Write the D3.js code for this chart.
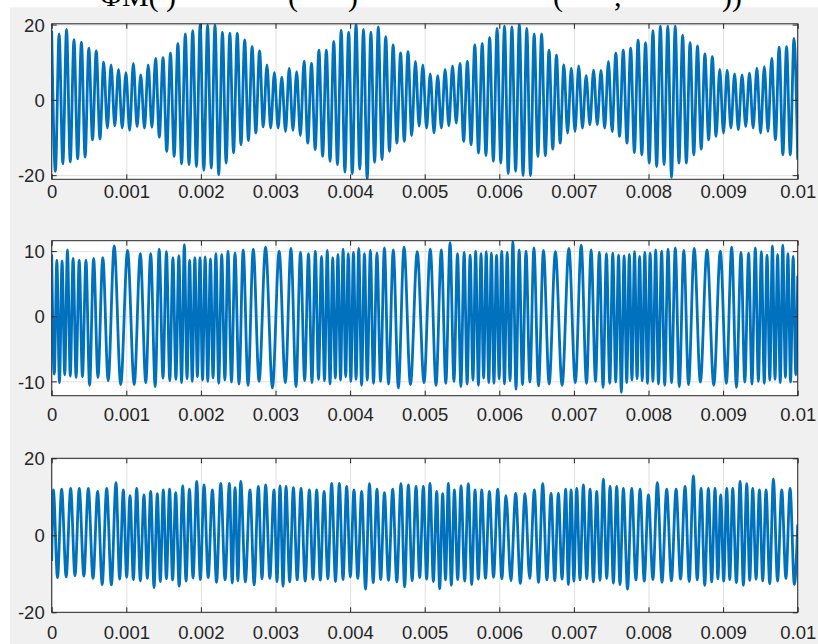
<!DOCTYPE html>
<html>
<head>
<meta charset="utf-8">
<script src="https://cdnjs.cloudflare.com/ajax/libs/d3/7.8.5/d3.min.js"></script>
<style>
  html, body { margin: 0; padding: 0; background: #ffffff; }
  svg { display: block; }
</style>
</head>
<body>
<svg id="figure" width="818" height="644"></svg>
<script>
// time axis, in ms (labels shown in seconds)
let xTickValues = [0, 1, 2, 3, 4, 5, 6, 7, 8, 9, 10];
let xTickLabels = ["0", "0.001", "0.002", "0.003", "0.004", "0.005", "0.006", "0.007", "0.008", "0.009", "0.01"];

// clipped title fragments above the first axes
let titleParts = ["ΦM( )", "(", ")", "(", ",", "))"];

// top panel: carrier maxima / minima, read one per cycle (equally spaced)
let amTicks = [-20, 0, 20];
let amPeaks = [
  18.4, 17.5, 18.7, 16.0, 15.3, 13.7, 13.0, 10.0, 9.3, 8.1,
  7.2, 9.7, 6.6, 9.3, 11.0, 11.2, 12.4, 15.0, 17.5, 18.4,
  20.1, 19.9, 19.9, 18.0, 17.7, 17.7, 15.9, 14.1, 13.0, 9.3,
  7.2, 6.0, 8.4, 7.5, 10.3, 9.7, 13.2, 13.2, 15.5, 18.5,
  18.0, 20.1, 18.7, 18.0, 19.4, 16.8, 14.6, 12.5, 12.8, 10.2,
  9.3, 6.9, 6.4, 8.1, 9.0, 9.7, 10.2, 14.6, 15.0, 16.6,
  19.0, 19.6, 19.4, 20.1, 19.0, 17.5, 17.5, 13.2, 11.9, 9.3,
  8.4, 9.0, 6.4, 7.9, 7.8, 10.2, 12.4, 13.2, 13.7, 15.9,
  15.2, 18.4, 19.6, 19.6, 19.6, 17.2, 15.2, 14.3, 12.2, 11.5,
  8.1, 7.9, 6.9, 6.6, 7.1, 8.4, 8.8, 11.0, 14.0, 14.1,
  16.3
];
let amTroughs = [
  -19.0, -17.0, -16.5, -15.7, -15.2, -10.6, -10.4, -7.5, -6.9, -7.5,
  -8.1, -7.1, -7.5, -7.3, -9.9, -13.7, -15.0, -17.0, -17.2, -17.7,
  -18.7, -18.1, -19.9, -16.8, -14.1, -11.9, -10.8, -8.8, -7.2, -7.5,
  -7.5, -8.4, -8.1, -9.5, -11.5, -13.2, -15.0, -16.3, -17.2, -19.2,
  -19.6, -18.4, -21.0, -16.6, -15.9, -13.7, -11.5, -11.0, -9.5, -7.0,
  -7.5, -8.8, -7.5, -6.9, -6.2, -11.0, -11.9, -14.1, -14.8, -16.3,
  -16.8, -19.6, -19.0, -20.1, -20.1, -15.0, -14.8, -13.1, -11.5, -8.8,
  -8.4, -7.5, -6.6, -6.6, -7.5, -8.4, -9.7, -11.5, -14.0, -14.6,
  -16.8, -17.7, -17.2, -20.6, -16.8, -16.8, -14.6, -13.1, -10.6, -9.7,
  -8.8, -7.5, -7.9, -7.1, -7.5, -8.8, -8.4, -10.6, -14.6, -14.6,
  -15.9
];

// middle panel: extrema times (ms) and values
let fmTicks = [-10, 0, 10];
let fmTimes = [
  0, 0.035, 0.069, 0.104, 0.139, 0.175, 0.211, 0.249, 0.287, 0.327,
  0.369, 0.412, 0.459, 0.508, 0.562, 0.620, 0.685, 0.757, 0.838, 0.925,
  1.017, 1.106, 1.188, 1.261, 1.327, 1.387, 1.441, 1.492, 1.538, 1.583,
  1.625, 1.665, 1.705, 1.741, 1.778, 1.814, 1.849, 1.884, 1.919, 1.953,
  1.988, 2.022, 2.057, 2.092, 2.128, 2.163, 2.201, 2.239, 2.279, 2.321,
  2.363, 2.410, 2.457, 2.511, 2.567, 2.632, 2.702, 2.780, 2.867, 2.959,
  3.049, 3.132, 3.207, 3.275, 3.335, 3.391, 3.442, 3.489, 3.534, 3.577,
  3.617, 3.657, 3.694, 3.731, 3.767, 3.802, 3.837, 3.872, 3.906,
  3.941, 3.975, 4.010, 4.045, 4.080, 4.116, 4.154, 4.192, 4.230, 4.272,
  4.314, 4.360, 4.408, 4.460, 4.515, 4.579, 4.647, 4.723, 4.809, 4.900,
  4.991, 5.075, 5.152, 5.223, 5.283, 5.340, 5.392, 5.440, 5.485, 5.529,
  5.569, 5.609, 5.647, 5.683, 5.720, 5.755, 5.790, 5.825, 5.859,
  5.894, 5.928, 5.963, 5.998, 6.033, 6.069, 6.106, 6.144, 6.182, 6.224,
  6.266, 6.311, 6.358, 6.410, 6.464, 6.526, 6.592, 6.668, 6.752, 6.842,
  6.933, 7.019, 7.098, 7.169, 7.231, 7.290, 7.341, 7.391, 7.436, 7.481,
  7.521, 7.561, 7.599, 7.636, 7.673, 7.708, 7.743, 7.778, 7.813,
  7.847, 7.881, 7.916, 7.951, 7.986, 8.022, 8.059, 8.096, 8.134, 8.176,
  8.217, 8.262, 8.309, 8.359, 8.413, 8.473, 8.537, 8.613, 8.695, 8.784,
  8.875, 8.963, 9.044, 9.115, 9.179, 9.240, 9.291, 9.342, 9.387, 9.432,
  9.473, 9.513, 9.552, 9.589, 9.626, 9.661, 9.696, 9.731, 9.766,
  9.800, 9.835, 9.869, 9.904, 9.939, 9.975, 10.0
];
let fmValues = [
  9.5, -8.9, 8.6, -10.2, 8.5, -9.0, 10.2, -9.2, 8.9, -9.4,
  8.6, -9.3, 8.6, -10.6, 8.9, -9.4, 9.0, -9.9, 10.8, -10.5,
  10.1, -10.5, 9.6, -10.2, 9.6, -10.8, 10.3, -9.5, 9.9, -9.9,
  9.0, -9.7, 9.3, -10.2, 11.0, -9.6, 8.6, -10.0, 9.0, -9.3,
  9.0, -9.8, 9.1, -10.0, 8.8, -9.5, 9.6, -10.3, 9.5, -9.8,
  10.0, -10.1, 9.7, -10.4, 10.2, -10.6, 10.3, -10.0, 10.6, -11.0,
  10.0, -10.2, 10.4, -10.8, 9.8, -9.9, 9.6, -10.2, 10.0, -9.7,
  9.2, -9.9, 10.1, -10.4, 9.0, -9.5, 9.5, -9.8, 10.3,
  -9.3, 9.6, -10.0, 9.8, -9.7, 10.4, -10.6, 9.6, -9.8, 10.1,
  -10.3, 9.7, -10.0, 10.5, -10.4, 10.2, -11.0, 10.6, -10.5, 9.9,
  -10.2, 10.3, -10.6, 10.2, -10.3, 11.3, -10.0, 9.6, -10.8, 9.8,
  -10.4, 9.4, -9.8, 10.0, -10.6, 9.6, -9.5, 9.9, -10.2,
  9.7, -10.3, 9.4, -9.6, 10.0, -10.4, 9.8, -9.9, 11.5, -11.2,
  10.2, -10.5, 10.0, -10.1, 10.5, -10.7, 10.1, -10.4, 9.9, -10.6,
  10.4, -10.2, 10.9, -10.3, 10.2, -10.0, 9.8, -10.9, 9.6, -10.3,
  9.7, -10.1, 9.4, -11.7, 9.3, -10.2, 9.5, -9.8, 9.9,
  -9.6, 9.2, -9.9, 9.8, -10.3, 9.7, -10.0, 10.2, -10.4, 10.0,
  -10.6, 10.3, -10.2, 10.5, -10.8, 10.1, -10.5, 10.4, -10.1, 10.2,
  -10.6, 10.0, -10.3, 10.6, -10.9, 9.8, -10.1, 9.7, -10.4, 10.5,
  -10.0, 9.9, -10.3, 9.4, -9.8, 10.8, -9.7, 9.5, -10.2,
  10.9, -9.4, 9.6, -10.1, 9.2, -9.0, 6.2
];

// bottom panel: maxima and minima read separately, plus the two end samples
let pmTicks = [-20, 0, 20];
let pmPeakTimes = [
  0.022, 0.133, 0.254, 0.370, 0.491, 0.616, 0.737, 0.862, 0.960, 1.050,
  1.139, 1.237, 1.327, 1.416, 1.496, 1.580, 1.662, 1.756, 1.846, 1.944,
  2.042, 2.154, 2.266, 2.382, 2.458, 2.534, 2.658, 2.770, 2.868, 2.980,
  3.061, 3.141, 3.240, 3.342, 3.454, 3.552, 3.651, 3.753, 3.856, 3.954,
  4.052, 4.155, 4.260, 4.360, 4.460, 4.571, 4.682, 4.781, 4.884, 4.982,
  5.071, 5.161, 5.241, 5.317, 5.398, 5.487, 5.585, 5.675, 5.764, 5.867,
  5.979, 6.090, 6.220, 6.345, 6.470, 6.582, 6.694, 6.792, 6.890, 6.962,
  7.038, 7.127, 7.217, 7.306, 7.395, 7.485, 7.574, 7.663, 7.775, 7.887,
  7.999, 8.119, 8.244, 8.370, 8.490, 8.602, 8.705, 8.803, 8.892, 8.968,
  9.049, 9.129, 9.228, 9.317, 9.397, 9.487, 9.576, 9.674, 9.786, 9.898
];
let pmPeakValues = [
  11.8, 12.0, 12.2, 12.2, 12.2, 11.4, 12.2, 13.7, 11.8, 10.3,
  12.2, 10.5, 11.4, 10.8, 11.8, 12.0, 11.1, 12.8, 12.0, 14.0,
  13.1, 11.8, 13.5, 13.5, 12.4, 14.0, 11.8, 12.7, 13.1, 11.8,
  12.8, 12.7, 12.4, 12.2, 11.8, 11.8, 11.4, 13.5, 13.5, 12.7,
  11.8, 11.4, 13.4, 12.0, 11.1, 12.0, 13.4, 13.1, 12.7, 12.7,
  13.5, 11.4, 10.8, 13.5, 11.8, 12.8, 13.4, 11.8, 11.8, 11.4,
  12.0, 10.3, 10.9, 10.8, 11.8, 13.4, 10.9, 10.9, 12.0, 11.8,
  12.2, 13.1, 12.0, 11.4, 14.6, 12.7, 12.7, 12.2, 12.2, 12.0,
  10.5, 13.7, 12.0, 12.0, 12.7, 15.4, 12.2, 12.2, 12.2, 10.5,
  12.2, 12.2, 14.0, 13.4, 12.2, 11.8, 11.8, 14.6, 11.8, 12.2
];
let pmTroughTimes = [
  0.078, 0.194, 0.312, 0.431, 0.554, 0.677, 0.800, 0.911, 1.005, 1.095,
  1.188, 1.282, 1.372, 1.456, 1.538, 1.621, 1.709, 1.801, 1.895, 1.993,
  2.098, 2.210, 2.324, 2.420, 2.496, 2.596, 2.714, 2.819, 2.924, 3.020,
  3.101, 3.190, 3.291, 3.398, 3.503, 3.601, 3.702, 3.804, 3.905, 4.003,
  4.103, 4.207, 4.310, 4.410, 4.515, 4.626, 4.731, 4.832, 4.933, 5.026,
  5.116, 5.201, 5.279, 5.357, 5.442, 5.536, 5.630, 5.719, 5.815, 5.923,
  6.034, 6.155, 6.282, 6.407, 6.526, 6.638, 6.743, 6.841, 6.926, 7.000,
  7.082, 7.172, 7.261, 7.350, 7.440, 7.529, 7.618, 7.719, 7.831, 7.943,
  8.059, 8.181, 8.307, 8.430, 8.546, 8.653, 8.754, 8.847, 8.930, 9.008,
  9.089, 9.178, 9.272, 9.357, 9.442, 9.531, 9.625, 9.730, 9.842, 9.955
];
let pmTroughValues = [
  -11.0, -10.8, -10.5, -10.6, -11.2, -12.8, -12.9, -11.4, -10.9, -11.5,
  -11.8, -11.2, -13.6, -12.0, -11.3, -11.6, -13.2, -11.9, -11.1, -11.5,
  -11.0, -12.2, -11.6, -12.4, -11.8, -12.1, -12.9, -11.3, -11.2, -12.0,
  -13.2, -12.1, -11.6, -11.9, -11.4, -11.7, -11.3, -12.0, -11.5, -10.8,
  -11.2, -14.0, -12.3, -11.5, -11.7, -12.1, -13.4, -11.8, -11.0, -11.4,
  -12.0, -13.9, -11.6, -13.0, -11.5, -11.9, -12.8, -11.4, -11.2, -10.9,
  -11.3, -11.8, -12.5, -11.2, -12.2, -11.6, -11.8, -11.4, -12.8, -11.9,
  -11.6, -11.3, -12.1, -11.7, -11.2, -12.4, -12.8, -14.0, -11.6, -11.9,
  -11.5, -12.2, -11.8, -11.4, -12.0, -11.6, -13.0, -12.1, -11.3, -11.9,
  -11.5, -12.3, -13.0, -11.7, -11.4, -11.8, -12.6, -11.9, -11.2, -12.8
];
let pmEdgeTimes = [0, 10];
let pmEdgeValues = [-6.7, 2.8];

const W = 818, H = 644;
const lineColor = "#0072bd", axisColor = "#262626", gridColor = "#dfdfdf";
const font = "'Liberation Sans', Arial, Helvetica, sans-serif";

let svg = d3.select("#figure");

svg.append("rect").attr("width", W).attr("height", H).attr("fill", "#ffffff");
svg.append("rect")
    .attr("x", 10).attr("y", 7.3)
    .attr("width", W - 10).attr("height", H - 7.3)
    .attr("fill", "#f0f0f0");

// build point lists
let amIndex = d3.scaleLinear().domain([0, amPeaks.length + amTroughs.length - 1]).range([0, 10]);
let amPoints = [];
amPeaks.forEach(function(v, i) {
    amPoints.push({t: amIndex(2 * i), v: v});
    if (i < amTroughs.length) amPoints.push({t: amIndex(2 * i + 1), v: amTroughs[i]});
});

let fmPoints = fmTimes.map(function(t, i) { return {t: t, v: fmValues[i]}; });

let pmPoints = []
    .concat(pmEdgeTimes.map(function(t, i) { return {t: t, v: pmEdgeValues[i]}; }))
    .concat(pmPeakTimes.map(function(t, i) { return {t: t, v: pmPeakValues[i]}; }))
    .concat(pmTroughTimes.map(function(t, i) { return {t: t, v: pmTroughValues[i]}; }))
    .sort(function(a, b) { return a.t - b.t; });

let x = d3.scaleLinear().domain([0, 10]).range([51.7, 797.7]);

let panels = [
    {id: "am", top: 23.8, bottom: 179.3, domain: [-21.1, 20.2], ticks: amTicks, labelY: 198.5, points: amPoints},
    {id: "fm", top: 240.7, bottom: 395.7, domain: [-12.2, 11.6], ticks: fmTicks, labelY: 421.5, points: fmPoints},
    {id: "pm", top: 458.3, bottom: 612.3, domain: [-20, 20], ticks: pmTicks, labelY: 639.5, points: pmPoints}
];

panels.forEach(function(p) {
    let y = d3.scaleLinear().domain(p.domain).range([p.bottom, p.top]);
    let left = x.range()[0], right = x.range()[1];
    let g = svg.append("g").attr("id", "panel_" + p.id);

    g.append("rect")
        .attr("x", left).attr("y", p.top)
        .attr("width", right - left).attr("height", p.bottom - p.top)
        .attr("fill", "#ffffff");

    // grid
    g.append("g")
        .attr("transform", "translate(0," + p.bottom + ")")
        .call(d3.axisBottom(x).tickValues(xTickValues).tickSize(-(p.bottom - p.top)).tickFormat(""))
        .call(function(s) { s.select(".domain").remove(); s.selectAll("line").attr("stroke", gridColor); });
    g.append("g")
        .attr("transform", "translate(" + left + ",0)")
        .call(d3.axisLeft(y).tickValues(p.ticks).tickSize(-(right - left)).tickFormat(""))
        .call(function(s) { s.select(".domain").remove(); s.selectAll("line").attr("stroke", gridColor); });

    g.append("clipPath").attr("id", "clip_" + p.id)
        .append("rect")
        .attr("x", left).attr("y", p.top)
        .attr("width", right - left).attr("height", p.bottom - p.top);

    let line = d3.line()
        .x(function(d) { return x(d.t); })
        .y(function(d) { return y(d.v); })
        .curve(d3.curveMonotoneX);

    g.append("path")
        .datum(p.points)
        .attr("clip-path", "url(#clip_" + p.id + ")")
        .attr("d", line)
        .attr("fill", "none")
        .attr("stroke", lineColor)
        .attr("stroke-width", 2.8)
        .attr("stroke-linejoin", "round");

    // ticks on all four sides, pointing inward
    let xb = g.append("g")
        .attr("transform", "translate(0," + p.bottom + ")")
        .call(d3.axisBottom(x).tickValues(xTickValues).tickSize(-5)
            .tickFormat(function(d, i) { return xTickLabels[i]; }));
    xb.selectAll("text").attr("y", p.labelY - p.bottom).attr("dy", null);

    g.append("g")
        .attr("transform", "translate(0," + p.top + ")")
        .call(d3.axisTop(x).tickValues(xTickValues).tickSize(-5).tickFormat(""));

    let yl = g.append("g")
        .attr("transform", "translate(" + left + ",0)")
        .call(d3.axisLeft(y).tickValues(p.ticks).tickSize(-5).tickPadding(7)
            .tickFormat(function(d) { return String(d); }));
    yl.selectAll("text").attr("x", -7).attr("dy", "0.36em");

    g.append("g")
        .attr("transform", "translate(" + right + ",0)")
        .call(d3.axisRight(y).tickValues(p.ticks).tickSize(-5).tickFormat(""));

    g.selectAll(".domain").remove();
    g.selectAll(".tick line").filter(function() { return d3.select(this).attr("stroke") !== gridColor; })
        .attr("stroke", axisColor);
    g.selectAll(".tick text")
        .attr("fill", axisColor)
        .style("font-family", font)
        .style("font-size", "18.5px");

    g.append("rect")
        .attr("x", left).attr("y", p.top)
        .attr("width", right - left).attr("height", p.bottom - p.top)
        .attr("fill", "none")
        .attr("stroke", axisColor)
        .attr("stroke-width", 1);
});

// title, cut off by the top of the window
let titleX = [100, 288, 348, 553, 614, 722];
svg.append("g").attr("id", "title")
    .selectAll("text").data(titleParts).join("text")
    .attr("x", function(d, i) { return titleX[i]; })
    .attr("y", 6)
    .text(function(d) { return d; })
    .attr("fill", "#000000")
    .style("font-family", "'Liberation Serif', 'Times New Roman', serif")
    .style("font-size", "30px");
</script>
</body>
</html>
